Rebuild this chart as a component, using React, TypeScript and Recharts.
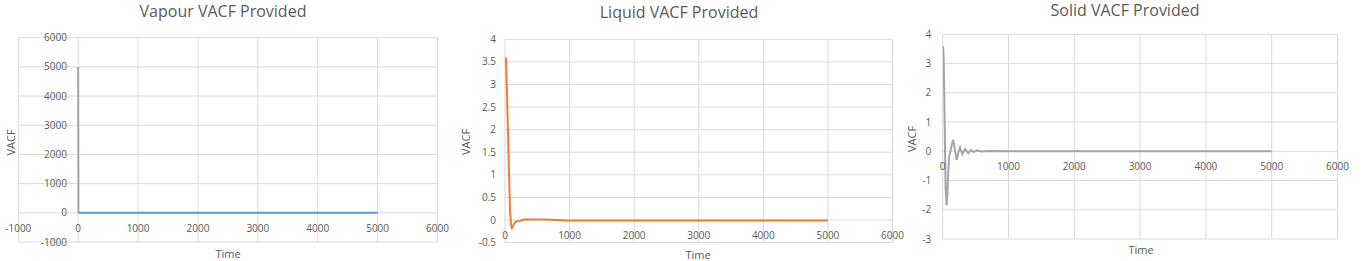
import React from 'react';
import { LineChart, Line, XAxis, YAxis, CartesianGrid } from 'recharts';

const W = 1363;
const H = 261;
const FONT = "'Open Sans', 'Noto Sans', sans-serif";
const TEXT = '#595959';
const GRID = '#D9D9D9';

// ---------- Vapour ----------
const vapourTitle = 'Vapour VACF Provided';
const vapourXTicks = [-1000, 0, 1000, 2000, 3000, 4000, 5000, 6000];
const vapourYTicks = [-1000, 0, 1000, 2000, 3000, 4000, 5000, 6000];
const vapourSpikeTime = [0, 4];
const vapourSpikeValues = [5000, 0];
const vapourTime = [4, 250, 500, 750, 1000, 1500, 2000, 2500, 3000, 3500, 4000, 4500, 5000];
const vapourValues = [0, 2, 1, 0, -1, 0, 1, 0, -1, 0, 1, 0, 0];

// ---------- Liquid ----------
const liquidTitle = 'Liquid VACF Provided';
const liquidXTicks = [0, 1000, 2000, 3000, 4000, 5000, 6000];
const liquidYTicks = [-0.5, 0, 0.5, 1, 1.5, 2, 2.5, 3, 3.5, 4];
const liquidTime = [10, 15, 30, 50, 65, 80, 95, 108, 125, 150, 180, 230, 290, 400, 600, 800, 1000, 1500, 2000, 2500, 3000, 3500, 4000, 4500, 5000];
const liquidValues = [3.6, 3.58, 2.85, 1.72, 0.9, 0.15, -0.12, -0.18, -0.13, -0.06, -0.03, -0.02, 0.01, 0.01, 0.01, 0.0, -0.01, -0.01, -0.01, -0.01, -0.01, -0.01, -0.01, -0.01, -0.01];

// ---------- Solid ----------
const solidTitle = 'Solid VACF Provided';
const solidXTicks = [0, 1000, 2000, 3000, 4000, 5000, 6000];
const solidYTicks = [-3, -2, -1, 0, 1, 2, 3, 4];
const solidTime = [5, 15, 25, 35, 45, 60, 72, 86, 100, 111, 135, 160, 185, 213, 238, 263, 298, 340, 390, 430, 470, 520, 580, 700, 1000, 2000, 3000, 4000, 5000];
const solidValues = [3.6, 3.2, 1.8, 0.1, -1.3, -1.84, -1.4, -0.64, -0.15, -0.07, 0.2, 0.39, 0.05, -0.3, -0.05, 0.13, -0.1, 0.08, -0.07, 0.04, -0.03, 0.03, -0.01, 0.01, 0, 0, 0, 0, 0];

const BLUE = '#5B9BD5';
const ORANGE = '#ED7D31';
const GREY = '#A5A5A5';

const toData = (ts: number[], vs: number[]) => ts.map((t, i) => ({ t, v: vs[i] }));

type Rect = { left: number; top: number; width: number; height: number };
type PanelCfg = {
  title: string;
  rect: Rect;
  xTicks: number[];
  yTicks: number[];
  series: { data: { t: number; v: number }[]; color: string }[];
  yGap: number;
  titleX: number;
  titleY: number;
  timeX: number;
  timeY: number;
  vacfX: number;
  vacfY: number;
};

const panels: PanelCfg[] = [
  {
    title: vapourTitle,
    rect: { left: 18.3, top: 37.7, width: 419.2, height: 204.3 },
    xTicks: vapourXTicks,
    yTicks: vapourYTicks,
    series: [
      { data: toData(vapourTime, vapourValues), color: BLUE },
      { data: toData(vapourSpikeTime, vapourSpikeValues), color: GREY },
    ],
    yGap: 11.3,
    titleX: 223, titleY: 17,
    timeX: 228, timeY: 258.3,
    vacfX: 15, vacfY: 142.5,
  },
  {
    title: liquidTitle,
    rect: { left: 505, top: 39.3, width: 387.5, height: 203.3 },
    xTicks: liquidXTicks,
    yTicks: liquidYTicks,
    series: [{ data: toData(liquidTime, liquidValues), color: ORANGE }],
    yGap: 9,
    titleX: 679, titleY: 18.3,
    timeX: 698, timeY: 258.5,
    vacfX: 470, vacfY: 142,
  },
  {
    title: solidTitle,
    rect: { left: 942.7, top: 34.3, width: 394.8, height: 204.7 },
    xTicks: solidXTicks,
    yTicks: solidYTicks,
    series: [{ data: toData(solidTime, solidValues), color: GREY }],
    yGap: 11.5,
    titleX: 1125, titleY: 15.5,
    timeX: 1141, timeY: 254,
    vacfX: 915.7, vacfY: 139,
  },
];

const AXIS_W = 14;
const AXIS_H = 14;

function Panel({ cfg }: { cfg: PanelCfg }) {
  const { rect, xTicks, yTicks } = cfg;
  const xMin = xTicks[0];
  const xMax = xTicks[xTicks.length - 1];
  const yMin = yTicks[0];
  const yMax = yTicks[yTicks.length - 1];
  const zeroX = rect.left + (rect.width * (0 - xMin)) / (xMax - xMin);
  const zeroY = rect.top + (rect.height * (yMax - 0)) / (yMax - yMin);
  const margin = {
    left: rect.left - AXIS_W,
    top: rect.top,
    right: W - rect.left - rect.width,
    bottom: H - rect.top - rect.height - AXIS_H,
  };
  const xTick = (p: any) => (
    <text x={p.x} y={zeroY + 15.5} dy="0.35em" textAnchor="middle" fill={TEXT} fontSize={10} fontFamily={FONT}>
      {p.payload.value}
    </text>
  );
  const yTick = (p: any) => (
    <text x={zeroX - cfg.yGap} y={p.y} dy="0.35em" textAnchor="end" fill={TEXT} fontSize={10} fontFamily={FONT}>
      {p.payload.value}
    </text>
  );
  return (
    <div style={{ position: 'absolute', left: 0, top: 0 }}>
      <LineChart width={W} height={H} margin={margin} style={{ overflow: 'visible' }}>
        <CartesianGrid stroke={GRID} strokeWidth={1} />
        <XAxis
          type="number"
          dataKey="t"
          domain={[xMin, xMax]}
          ticks={xTicks}
          interval={0}
          height={AXIS_H}
          axisLine={false}
          tickLine={false}
          tickSize={0}
          tickMargin={0}
          allowDataOverflow
          tick={xTick}
        />
        <YAxis
          type="number"
          domain={[yMin, yMax]}
          ticks={yTicks}
          interval={0}
          width={AXIS_W}
          axisLine={false}
          tickLine={false}
          tickSize={0}
          tickMargin={0}
          allowDataOverflow
          tick={yTick}
        />
        {cfg.series.map((s, i) => (
          <Line
            key={i}
            data={s.data}
            dataKey="v"
            type="linear"
            stroke={s.color}
            strokeWidth={2}
            dot={false}
            activeDot={false}
            isAnimationActive={false}
          />
        ))}
      </LineChart>
    </div>
  );
}

export default function App() {
  return (
    <div style={{ position: 'absolute', left: 0, top: 0, width: W, height: H, background: '#fff', overflow: 'hidden' }}>
      {panels.map((p, i) => (
        <Panel key={i} cfg={p} />
      ))}
      <svg width={W} height={H} style={{ position: 'absolute', left: 0, top: 0, pointerEvents: 'none' }}>
        {panels.map((p, i) => (
          <g key={i} fill={TEXT} fontFamily={FONT}>
            <text x={p.titleX} y={p.titleY} textAnchor="middle" fontSize={16}>
              {p.title}
            </text>
            <text x={p.timeX} y={p.timeY} textAnchor="middle" fontSize={11}>
              Time
            </text>
            <text transform={`translate(${p.vacfX},${p.vacfY}) rotate(-90)`} textAnchor="middle" fontSize={11}>
              VACF
            </text>
          </g>
        ))}
      </svg>
    </div>
  );
}
